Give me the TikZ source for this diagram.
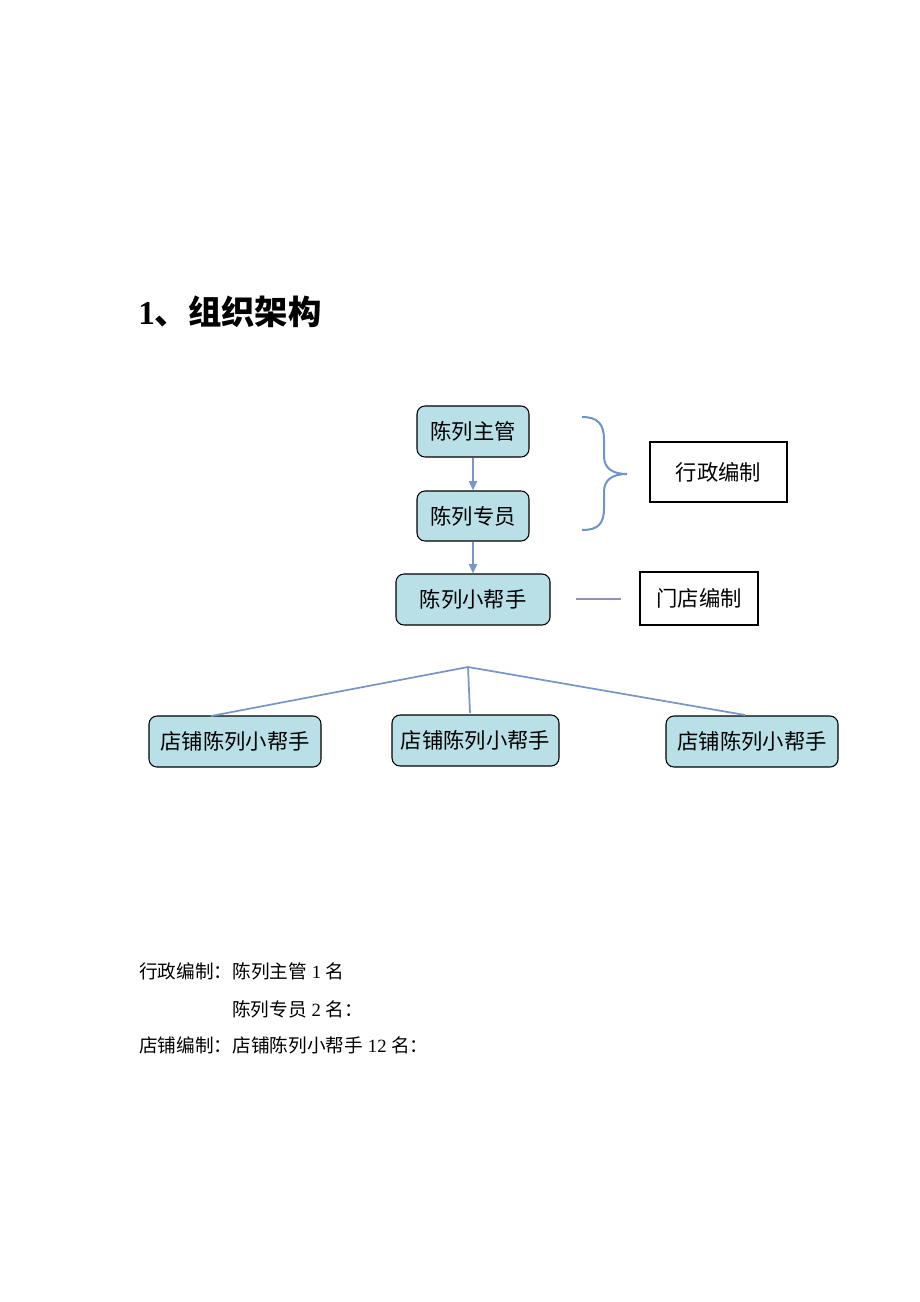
\documentclass[tikz,border=0pt]{standalone}
\usepackage{fontspec}
\setmainfont{Liberation Serif}
\newfontfamily\cjk{Noto Sans CJK SC}
\usetikzlibrary{arrows.meta}
\definecolor{boxfill}{RGB}{184,224,230}
\definecolor{linkblue}{RGB}{122,150,196}
\definecolor{bracecol}{RGB}{110,148,200}
\definecolor{purpline}{RGB}{150,140,200}
\tikzset{
  rbox/.style={draw=black, line width=0.8pt, fill=boxfill, rounded corners=6pt, inner sep=0pt, font=\cjk\fontsize{16}{18}\selectfont},
  sbox/.style={draw=black, line width=0.8pt, fill=white, inner sep=0pt, font=\cjk\fontsize{16}{18}\selectfont},
  link/.style={draw=linkblue, line width=1.3pt},
  arr/.style={link, -{Triangle[width=6pt,length=7pt]}},
  txt/.style={anchor=west, inner sep=0pt, font=\cjk\fontsize{14}{16}\selectfont},
}
\begin{document}
\begin{tikzpicture}[x=0.75pt, y=-0.75pt]
\useasboundingbox (0,0) rectangle (920,1302);
% title
\node[anchor=west, inner sep=0pt] (title) at (138,312) {\fontsize{25}{28}\selectfont\bfseries 1\cjk 、组织架构};
% boxes
\node[rbox, minimum width=84pt, minimum height=38.25pt] (zg) at (473,431.5) {陈列主管};
\node[rbox, minimum width=84pt, minimum height=37.5pt] (zy) at (473,516) {陈列专员};
\node[rbox, minimum width=115.5pt, minimum height=38.25pt] (xb) at (473,599.5) {陈列小帮手};
\node[sbox, minimum width=102.75pt, minimum height=45pt] (xz) at (718.5,472) {行政编制};
\node[sbox, minimum width=88.5pt, minimum height=39.75pt] (md) at (699,598.5) {门店编制};
\node[rbox, minimum width=129pt, minimum height=38.25pt] (d1) at (235,741.5) {店铺陈列小帮手};
\node[rbox, minimum width=125.25pt, minimum height=38.25pt] (d2) at (475.5,740.5) {店铺陈列小帮手};
\node[rbox, minimum width=129pt, minimum height=38.25pt] (d3) at (752,741.5) {店铺陈列小帮手};
% arrows
\draw[arr] (zg.south) -- (zy.north);
\draw[arr] (zy.south) -- (xb.north);
% short line
\coordinate (la) at (576,599);
\coordinate (lb) at (621,599);
\draw[draw=purpline, line width=1.3pt] (la) -- (lb);
% brace
\coordinate (bt) at (582,417);
\coordinate (bm) at (627,474);
\coordinate (bb) at (582,530);
\draw[draw=bracecol, line width=1.5pt]
  (bt) .. controls (598,417) and (604,424) .. (604,440) -- (604,456)
  .. controls (604,468) and (612,474) .. (bm)
  .. controls (612,474) and (604,480) .. (604,492) -- (604,508)
  .. controls (604,524) and (598,530) .. (bb);
% tree
\coordinate (apex) at (468,667);
\draw[link] (apex) -- (211,716);
\draw[link] (apex) -- (470,713);
\draw[link] (apex) -- (745,715);
% bottom text
\node[txt] (t1) at (139,971) {行政编制：陈列主管\hspace{3.5pt}{\rmfamily 1}\hspace{3.5pt}名};
\node[txt] (t2) at (232,1009) {陈列专员\hspace{3.5pt}{\rmfamily 2}\hspace{3.5pt}名：};
\node[txt] (t3) at (139,1045) {店铺编制：店铺陈列小帮手\hspace{3.5pt}{\rmfamily 12}\hspace{3.5pt}名：};
\end{tikzpicture}
\end{document}
